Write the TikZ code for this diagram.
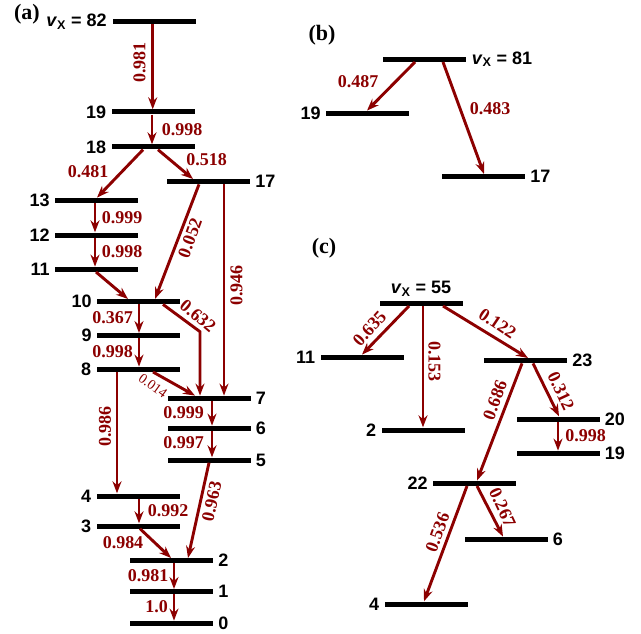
\documentclass[tikz,border=0pt]{standalone}
\usepackage{fontspec}
\setmainfont{Liberation Serif}
\setsansfont{Liberation Sans}
\usepackage{xcolor}
\definecolor{trans}{rgb}{0.55,0,0}
\usepackage{tikz}
\usetikzlibrary{arrows.meta, calc, positioning}

\begin{document}
\begin{tikzpicture}[x=1pt, y=-1pt,
    lev/.style={fill=black, minimum width=83pt, minimum height=5pt, inner sep=0pt},
    lab/.style={font=\sffamily\bfseries\fontsize{18}{18}\selectfont, inner sep=0pt},
    tr/.style={trans, line width=2.9pt, -{Stealth[length=12pt, width=9pt, inset=4pt]}},
    br/.style={trans, font=\bfseries\fontsize{18}{18}\selectfont, inner sep=0pt},
    panel/.style={font=\bfseries\fontsize{22}{22}\selectfont, inner sep=0pt}]
    \useasboundingbox (0,0) rectangle (641,634);
    \node[panel] (pa) at (27,14) {(a)};
    \node[panel] (pb) at (322,35) {(b)};
    \node[panel] (pc) at (324,248) {(c)};
    % (a) levels
    \foreach \n/\x/\y in {82/154.5/21.7, 19/153/112, 18/153/147, 17/208.5/181.7,
        13/96.5/200.3, 12/96.5/235, 11/96.5/269.3, 10/138.5/301.7, 9/138.5/335.7,
        8/138/369.3, 7/209/398.3, 6/209/428.3, 5/209/460, 4/138/496, 3/138/526,
        2/171.5/560.7, 1/171.5/591.7, 0/171.5/623.3}
        \node[lev] (a\n) at (\x,\y) {};
    \foreach \n in {19,18,13,12,11,10,9,8,4,3}
        \node[lab, left=5pt of a\n] (la\n) {\n};
    \foreach \n in {17,7,6,5,2,1,0}
        \node[lab, right=5pt of a\n] (la\n) {\n};
    \node[lab, left=6pt of a82] (la82) {\textit{v}\textsubscript{X} = 82};
    % (a) transitions
    \coordinate (a10k) at (200,331.7);
    \draw[tr] ([xshift=-1.8pt]a82.south) -- ([xshift=-0.3pt]a19.north);
    \draw[tr] ([xshift=-1pt]a19.south) -- ([xshift=-1pt]a18.north);
    \draw[tr] ([xshift=-10pt]a18.south) -- ([xshift=0.5pt]a13.north);
    \draw[tr] ([xshift=5pt]a18.south) -- ([xshift=-15.5pt]a17.north);
    \draw[tr] ([xshift=-1.5pt]a13.south) -- ([xshift=-1.5pt]a12.north);
    \draw[tr] ([xshift=-1.5pt]a12.south) -- ([xshift=-1.5pt]a11.north);
    \draw[tr] ([xshift=-0.5pt]a11.south) -- ([xshift=-10.5pt]a10.north);
    \draw[tr] ([xshift=-9.5pt]a17.south) -- ([xshift=16.5pt]a10.north);
    \draw[tr] ([xshift=15.5pt]a17.south) -- ([xshift=15pt]a7.north);
    \draw[tr] ([xshift=24.5pt]a10.south) -- (a10k) -- ([xshift=-9pt]a7.north);
    \draw[tr] ([xshift=0.5pt]a10.south) -- ([xshift=0.5pt]a9.north);
    \draw[tr] ([xshift=0.5pt]a9.south) -- ([xshift=1pt]a8.north);
    \draw[tr] ([xshift=15pt]a8.south) -- ([xshift=-14pt]a7.north);
    \draw[tr] ([xshift=3pt]a7.south) -- ([xshift=3pt]a6.north);
    \draw[tr] ([xshift=3pt]a6.south) -- ([xshift=3pt]a5.north);
    \draw[tr] ([xshift=-21pt]a8.south) -- ([xshift=-21pt]a4.north);
    \draw[tr] ([xshift=0pt]a5.south) -- ([xshift=16.5pt]a2.north);
    \draw[tr] ([xshift=1pt]a4.south) -- ([xshift=1pt]a3.north);
    \draw[tr] ([xshift=2pt]a3.south) -- ([xshift=-0.5pt]a2.north);
    \draw[tr] ([xshift=2.5pt]a2.south) -- ([xshift=2.5pt]a1.north);
    \draw[tr] ([xshift=2.5pt]a1.south) -- ([xshift=2.5pt]a0.north);
    % (b) levels
    \node[lev] (b81) at (424,59.3) {};
    \node[lev] (b19) at (367.5,113.3) {};
    \node[lev] (b17) at (483.5,176.7) {};
    \node[lab, right=6pt of b81] (lb81) {\textit{v}\textsubscript{X} = 81};
    \node[lab, left=5pt of b19] (lb19) {19};
    \node[lab, right=5pt of b17] (lb17) {17};
    \draw[tr] ([xshift=-9pt]b81.south) -- ([xshift=-0.5pt]b19.north);
    \draw[tr] ([xshift=19pt]b81.south) -- ([xshift=0.5pt]b17.north);
    % (c) levels
    \foreach \n/\x/\y in {55/421/303.3, 11/362/357.3, 2/423/430, 23/525.5/360.7,
        20/558/419, 19/558/453.3, 22/474.5/483.3, 6/506/539.3, 4/426/604}
        \node[lev] (c\n) at (\x,\y) {};
    \foreach \n in {11,2,22,4}
        \node[lab, left=5pt of c\n] (lc\n) {\n};
    \foreach \n in {23,20,19,6}
        \node[lab, right=5pt of c\n] (lc\n) {\n};
    \node[lab, above=4pt of c55] (lc55) {\textit{v}\textsubscript{X} = 55};
    \draw[tr] ([xshift=-12pt]c55.south) -- (c11.north);
    \draw[tr] ([xshift=2pt]c55.south) -- (c2.north);
    \draw[tr] ([xshift=22pt]c55.south) -- ([xshift=2.5pt]c23.north);
    \draw[tr] ([xshift=-3.5pt]c23.south) -- ([xshift=2.5pt]c22.north);
    \draw[tr] ([xshift=7.5pt]c23.south) -- ([xshift=1pt]c20.north);
    \draw[tr] (c20.south) -- (c19.north);
    \draw[tr] ([xshift=-7.5pt]c22.south) -- ([xshift=-2pt]c4.north);
    \draw[tr] ([xshift=2.5pt]c22.south) -- ([xshift=-3pt]c6.north);
    % branching ratios
    \foreach \v/\x/\y [count=\i] in {0.998/182/130, 0.481/88/172, 0.518/206.5/160,
        0.999/122/217.5, 0.998/122/251.7, 0.367/112.5/317.5, 0.998/112.5/351.5,
        0.999/183.5/412.5, 0.997/183.5/443, 0.992/168/511, 0.984/123/543,
        0.981/148/576, 1.0/156.5/607, 0.487/358/82, 0.483/490/109, 0.998/585.5/436}
        \node[br] (t\i) at (\x,\y) {\v};
    \foreach \v/\x/\y/\r [count=\i] in {0.981/139.5/62.5/90, 0.052/190/238/70,
        0.946/236.5/285.5/90, 0.632/198/316/-40, 0.986/105/426.7/90,
        0.963/211.7/501.7/78, 0.635/369.5/328.5/48, 0.153/434.5/361.7/-90,
        0.122/497.5/323.5/-34, 0.686/495/400/70, 0.312/561/391/-65,
        0.536/437.5/532.5/70, 0.267/502.5/507.5/-65}
        \node[br, rotate=\r] (s\i) at (\x,\y) {\v};
    \node[trans, inner sep=0pt, font=\fontsize{14}{14}\selectfont, rotate=-36] (s0) at (153,386) {0.014};
\end{tikzpicture}
\end{document}
